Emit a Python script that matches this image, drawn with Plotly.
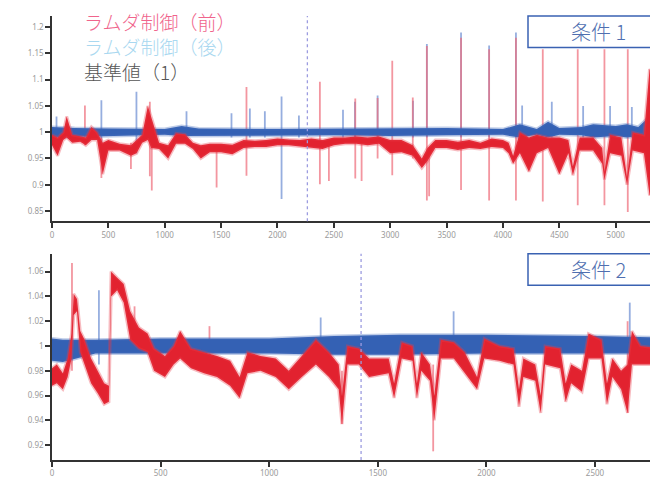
import plotly.graph_objects as go

# ---------------- data ----------------
# Panel 1 (条件 1): red = ラムダ制御（前）, blue = ラムダ制御（後）
p1_red_x  = [0, 50, 100, 130, 180, 250, 300, 350, 400, 450, 500, 600, 700, 750, 800, 850, 880, 950, 1030, 1100,
             1180, 1250, 1320, 1400, 1500, 1600, 1700, 1800, 1900, 2000, 2100, 2200, 2300, 2400, 2500, 2600, 2700,
             2800, 2900, 3000, 3100, 3200, 3280, 3330, 3400, 3500, 3600, 3700, 3800, 3900, 4000, 4050, 4090, 4150,
             4230, 4300, 4400, 4500, 4580, 4620, 4680, 4800, 4880, 4900, 4950, 5050, 5100, 5150, 5250, 5300, 5375]
p1_red_lo = [0.975, 0.955, 0.985, 0.99, 0.98, 0.982, 0.975, 0.985, 0.985, 0.92, 0.965, 0.965, 0.955, 0.96, 0.98,
             0.985, 0.97, 0.968, 0.95, 0.978, 0.978, 0.968, 0.95, 0.962, 0.962, 0.958, 0.97, 0.972, 0.972, 0.975,
             0.975, 0.972, 0.97, 0.968, 0.975, 0.978, 0.978, 0.975, 0.978, 0.96, 0.962, 0.955, 0.932, 0.945, 0.97,
             0.97, 0.966, 0.97, 0.968, 0.972, 0.97, 0.96, 0.94, 0.96, 0.925, 0.96, 0.97, 0.92, 0.96, 0.918, 0.965,
             0.965, 0.94, 0.91, 0.96, 0.955, 0.9, 0.965, 0.96, 0.88, 0.9]
p1_red_hi = [0.995, 0.99, 1.0, 1.03, 0.995, 0.992, 0.99, 1.01, 1.0, 0.98, 0.985, 0.978, 0.975, 0.985, 0.995, 1.05,
             1.03, 0.98, 0.975, 0.998, 0.996, 0.98, 0.975, 0.978, 0.978, 0.976, 0.985, 0.984, 0.985, 0.988, 0.986,
             0.985, 0.988, 0.985, 0.99, 0.99, 0.992, 0.99, 0.992, 0.985, 0.985, 0.975, 0.95, 0.97, 0.985, 0.985,
             0.982, 0.985, 0.98, 0.988, 0.985, 0.98, 0.955, 1.0, 0.99, 0.995, 0.99, 0.99, 0.985, 0.935, 0.99, 0.99,
             0.97, 0.925, 0.995, 0.99, 0.915, 1.0, 0.995, 1.12, 1.1]
p1_blue_x  = [0, 200, 500, 1000, 1150, 1300, 2000, 2500, 3000, 3500, 4000, 4150, 4300, 4400, 4500, 4700, 4800,
              5000, 5100, 5200, 5300, 5375]
p1_blue_lo = [0.99, 0.992, 0.993, 0.995, 0.993, 0.994, 0.994, 0.994, 0.993, 0.994, 0.995, 0.99, 0.995, 0.99,
              0.995, 0.994, 0.99, 0.993, 0.99, 0.993, 0.98, 0.99]
p1_blue_hi = [1.01, 1.008, 1.007, 1.006, 1.012, 1.007, 1.006, 1.007, 1.008, 1.008, 1.006, 1.015, 1.006, 1.02,
              1.008, 1.01, 1.015, 1.012, 1.015, 1.01, 1.03, 1.01]
p1_pink_spk_x  = [292, 438, 700, 868, 885, 1460, 1725, 2376, 2456, 2690, 2746, 2888, 3018, 3200, 3325, 3345,
                  3628, 3877, 4115, 4353, 4663, 4900, 5107, 5320]
p1_pink_spk_lo = [0.975, 0.913, 0.93, 0.916, 0.889, 0.895, 0.917, 0.901, 0.907, 0.912, 0.907, 0.95, 0.918, 0.95,
                  0.87, 0.878, 0.89, 0.87, 0.87, 0.868, 0.861, 0.861, 0.848, 0.88]
p1_pink_spk_hi = [1.051, 0.99, 0.98, 1.058, 0.98, 0.975, 1.086, 1.096, 0.98, 1.064, 0.98, 1.065, 1.136, 1.066,
                  1.164, 0.97, 1.18, 1.158, 1.18, 1.158, 1.158, 1.158, 1.158, 1.17]
p1_blue_spk_x  = [40, 438, 749, 1193, 1592, 1755, 1888, 2036, 2190, 2581, 2687, 2888, 3202, 3325, 3628, 3877,
                  4115, 4170, 4433, 4711, 4950, 5143, 5326]
p1_blue_spk_lo = [0.96, 0.966, 0.96, 0.99, 0.99, 0.99, 0.99, 0.873, 0.99, 0.99, 0.99, 0.99, 0.99, 0.99, 0.99,
                  0.99, 0.99, 0.99, 0.99, 0.99, 0.99, 0.99, 0.99]
p1_blue_spk_hi = [1.03, 1.061, 1.077, 1.04, 1.036, 1.045, 1.04, 1.068, 1.032, 1.043, 1.058, 1.07, 1.06, 1.168,
                  1.19, 1.165, 1.19, 1.051, 1.058, 1.05, 1.05, 1.048, 1.165]

# Panel 2 (条件 2)
p2_red_x  = [0, 22, 50, 72, 90, 100, 115, 130, 150, 180, 210, 240, 262, 272, 300, 330, 360, 400, 440, 470, 520,
             560, 590, 640, 700, 760, 820, 864, 900, 960, 1030, 1090, 1150, 1215, 1275, 1320, 1335, 1360, 1413,
             1460, 1550, 1575, 1610, 1660, 1680, 1700, 1740, 1760, 1790, 1850, 1900, 1957, 1990, 2060, 2125,
             2150, 2170, 2225, 2250, 2270, 2340, 2365, 2390, 2440, 2470, 2530, 2555, 2580, 2620, 2650, 2670,
             2710, 2790]
p2_red_lo = [0.968, 0.97, 0.965, 0.975, 0.99, 1.025, 1.028, 0.995, 0.985, 0.97, 0.962, 0.953, 0.955, 1.04, 1.045,
             1.035, 1.005, 0.998, 0.995, 0.98, 0.975, 0.985, 0.99, 0.982, 0.978, 0.975, 0.968, 0.958, 0.978,
             0.98, 0.975, 0.965, 0.975, 0.985, 0.975, 0.965, 0.937, 0.985, 0.985, 0.975, 0.978, 0.958, 0.99,
             0.988, 0.958, 0.98, 0.972, 0.94, 0.99, 0.99, 0.978, 0.965, 0.99, 0.988, 0.985, 0.951, 0.975, 0.972,
             0.946, 0.985, 0.982, 0.955, 0.97, 0.963, 0.99, 0.99, 0.953, 0.975, 0.965, 0.946, 0.985, 0.985, 0.985]
p2_red_hi = [0.982, 0.985, 0.978, 0.99, 1.01, 1.042, 1.038, 1.012, 1.005, 0.99, 0.98, 0.97, 0.968, 1.06, 1.055,
             1.05, 1.028, 1.015, 1.01, 0.998, 0.992, 1.0, 1.012, 0.998, 0.995, 0.992, 0.988, 0.975, 0.995, 0.992,
             0.99, 0.98, 0.992, 1.005, 0.995, 0.985, 0.96, 1.0, 0.998, 0.99, 0.99, 0.97, 1.003, 1.0, 0.97, 0.995,
             0.985, 0.96, 1.005, 1.003, 0.995, 0.975, 1.006, 1.0, 0.998, 0.965, 0.99, 0.985, 0.96, 1.0, 0.998,
             0.97, 0.985, 0.98, 1.01, 1.005, 0.97, 0.99, 0.98, 0.985, 1.012, 1.0, 0.998]
p2_blue_x  = [0, 50, 200, 500, 1000, 1300, 1600, 2000, 2500, 2790]
p2_blue_lo = [0.988, 0.987, 0.994, 0.994, 0.994, 0.993, 0.993, 0.994, 0.994, 0.994]
p2_blue_hi = [1.006, 1.005, 1.005, 1.006, 1.006, 1.008, 1.009, 1.009, 1.008, 1.007]
p2_pink_spk_x  = [92, 380, 725, 1335, 1755, 2650]
p2_pink_spk_lo = [0.98, 1.0, 0.98, 0.937, 0.915, 0.946]
p2_pink_spk_hi = [1.067, 1.032, 1.016, 0.98, 0.985, 1.02]
p2_blue_spk_x  = [216, 1237, 1849, 2660]
p2_blue_spk_lo = [0.985, 0.99, 0.99, 0.99]
p2_blue_spk_hi = [1.045, 1.023, 1.028, 1.035]

# reference markers / ranges / ticks
base_value = 1
p1_marker_x = 2265
p2_marker_x = 1423
p1_x_range = [0, 5375]
p2_x_range = [0, 2790]
p1_y_range = [0.8306, 1.2212]
p2_y_range = [0.908, 1.0744]
p1_y_ticks = [0.85, 0.9, 0.95, 1, 1.05, 1.1, 1.15, 1.2]
p1_y_labels = ["0.85", "0.9", "0.95", "1", "1.05", "1.1", "1.15", "1.2"]
p2_y_ticks = [0.92, 0.94, 0.96, 0.98, 1, 1.02, 1.04, 1.06]
p2_y_labels = ["0.92", "0.94", "0.96", "0.98", "1", "1.02", "1.04", "1.06"]
legend_labels = ["ラムダ制御（前）", "ラムダ制御（後）", "基準値（1）"]
panel_titles = ["条件 1", "条件 2"]

# ---------------- styling ----------------
RED = "#e2222f"
RED_HALO = "rgba(232,60,75,0.35)"
BLUE = "#3461b4"
BLUE_HALO = "rgba(70,110,190,0.35)"
PINK_SPK = "rgba(238,105,120,0.7)"
BLUE_SPK = "rgba(105,140,210,0.7)"
FONT = "Noto Sans CJK JP"

fig = go.Figure()


def band(x, lo, hi, color, halo, xa, ya):
    fig.add_trace(go.Scatter(
        x=list(x) + list(x)[::-1], y=list(hi) + list(lo)[::-1],
        fill="toself", fillcolor=color, mode="lines",
        line=dict(color=halo, width=3), xaxis=xa, yaxis=ya,
        hoverinfo="skip", showlegend=False))


def spikes(x, lo, hi, color, xa, ya):
    xs, ys = [], []
    for xi, l, h in zip(x, lo, hi):
        xs += [xi, xi, None]
        ys += [l, h, None]
    fig.add_trace(go.Scatter(x=xs, y=ys, mode="lines", line=dict(color=color, width=1.8),
                             xaxis=xa, yaxis=ya, hoverinfo="skip", showlegend=False))


for xa, ya, xr in [("x", "y", p1_x_range), ("x2", "y2", p2_x_range)]:
    fig.add_trace(go.Scatter(x=xr, y=[base_value, base_value], mode="lines",
                             line=dict(color="#555555", width=1), xaxis=xa, yaxis=ya,
                             hoverinfo="skip", showlegend=False))

spikes(p1_blue_spk_x, p1_blue_spk_lo, p1_blue_spk_hi, BLUE_SPK, "x", "y")
spikes(p1_pink_spk_x, p1_pink_spk_lo, p1_pink_spk_hi, PINK_SPK, "x", "y")
band(p1_blue_x, p1_blue_lo, p1_blue_hi, BLUE, BLUE_HALO, "x", "y")
band(p1_red_x, p1_red_lo, p1_red_hi, RED, RED_HALO, "x", "y")

spikes(p2_blue_spk_x, p2_blue_spk_lo, p2_blue_spk_hi, BLUE_SPK, "x2", "y2")
spikes(p2_pink_spk_x, p2_pink_spk_lo, p2_pink_spk_hi, PINK_SPK, "x2", "y2")
band(p2_blue_x, p2_blue_lo, p2_blue_hi, BLUE, BLUE_HALO, "x2", "y2")
band(p2_red_x, p2_red_lo, p2_red_hi, RED, RED_HALO, "x2", "y2")

# dotted vertical markers
for xv, xr, yr in [(p1_marker_x, "x", "y domain"), (p2_marker_x, "x2", "y2 domain")]:
    fig.add_shape(type="line", x0=xv, x1=xv, y0=0, y1=1, xref=xr, yref=yr,
                  line=dict(color="#9c9ce0", width=1.3, dash="dot"))

axis_common = dict(showline=True, linecolor="#333333", linewidth=1.5, ticks="outside",
                   ticklen=5, tickwidth=1.5, tickcolor="#333333", showgrid=False, zeroline=False,
                   tickfont=dict(family="Noto Sans", size=8, color="#9a9a9a"))

# The page body has an 8px margin, so figure coordinates = page coordinates - 8.
OFF = 8
W, H = 650, 470
L, T, B = 52 - OFF, 16 - OFF, 12
pw = W - L
ph = H - T - B


def py(page_y):
    return (H - B - (page_y - OFF)) / ph


def px(page_x):
    return (page_x - OFF - L) / pw


fig.update_layout(
    width=W, height=H,
    margin=dict(l=L, r=0, t=T, b=B),
    paper_bgcolor="white", plot_bgcolor="white",
    xaxis=dict(domain=[0, 1], range=p1_x_range, anchor="y", dtick=500, **axis_common),
    yaxis=dict(domain=[py(224), py(16)], range=p1_y_range, anchor="x",
               tickvals=p1_y_ticks, ticktext=p1_y_labels, **axis_common),
    xaxis2=dict(domain=[0, 1], range=p2_x_range, anchor="y2", dtick=500, **axis_common),
    yaxis2=dict(domain=[py(466), py(257)], range=p2_y_range, anchor="x2",
                tickvals=p2_y_ticks, ticktext=p2_y_labels, **axis_common),
    showlegend=False,
)

# legend text
legend_colors = ["#f0648c", "#a9d8f0", "#555555"]
for i, (lab, col) in enumerate(zip(legend_labels, legend_colors)):
    fig.add_annotation(x=px(82), y=py(22 + 25 * i), xref="paper", yref="paper",
                       text=lab, showarrow=False, xanchor="left", yanchor="middle",
                       font=dict(family=FONT, size=19, color=col, weight=300))

# panel title boxes
for title, top_px in zip(panel_titles, [16, 257]):
    y0 = py(top_px + 32)
    y1 = py(top_px)
    fig.add_shape(type="rect", xref="paper", yref="paper", x0=px(528), x1=1.05, y0=y0, y1=y1,
                  line=dict(color="#3a62b2", width=1.5), fillcolor="white")
    fig.add_annotation(x=px(598), y=(y0 + y1) / 2, xref="paper", yref="paper", text=title,
                       showarrow=False, xanchor="center", yanchor="middle",
                       font=dict(family=FONT, size=20, color="#4f6fb0", weight=300))

fig.write_html("out.html")
